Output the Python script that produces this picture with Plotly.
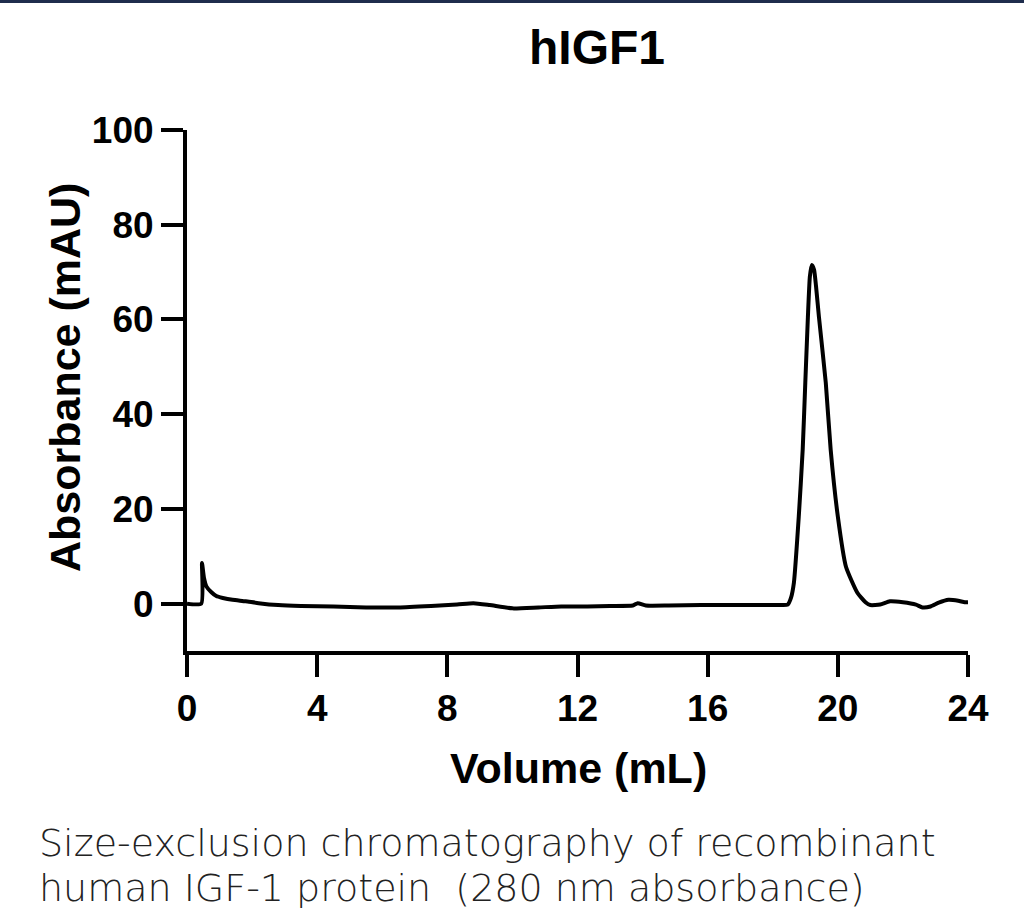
import plotly.graph_objects as go

# ---- data ----
volume_ml = [0.0, 0.44, 0.46, 0.52, 0.6, 0.75, 0.9, 1.1, 1.4, 1.8, 2.2, 2.8, 3.5, 4.5,
             5.5, 6.5, 7.5, 8.3, 8.8, 9.3, 10.0, 10.8, 11.5, 12.3, 13.0, 13.7, 13.85,
             14.1, 14.8, 15.8, 16.8, 17.8, 18.3, 18.46, 18.56, 18.65, 18.8, 18.92, 19.0,
             19.08, 19.14, 19.2, 19.27, 19.33, 19.42, 19.63, 19.78, 20.0, 20.25, 20.6,
             20.85, 21.0, 21.3, 21.6, 22.0, 22.4, 22.6, 22.85, 23.1, 23.4, 23.7, 23.9, 24.0]
absorbance_mau = [0.0, 0.0, 8.6, 5.5, 3.6, 2.4, 1.6, 1.2, 0.8, 0.5, 0.1, -0.3, -0.5, -0.6,
                  -0.8, -0.8, -0.5, -0.2, 0.1, -0.3, -1.0, -0.8, -0.6, -0.6, -0.5, -0.4, 0.1,
                  -0.4, -0.4, -0.3, -0.3, -0.3, -0.3, -0.2, 1.2, 4.4, 18.4, 32.5, 46.6,
                  60.5, 69.0, 71.5, 70.5, 67.0, 60.5, 46.6, 32.5, 18.4, 7.8, 2.3,
                  0.3, -0.3, -0.2, 0.5, 0.3, -0.2, -0.8, -0.6, 0.2, 0.8, 0.6, 0.3, 0.3]
assert len(volume_ml) == len(absorbance_mau)

x_ticks = [0, 4, 8, 12, 16, 20, 24]
y_ticks = [0, 20, 40, 60, 80, 100]

title_text = "hIGF1"
x_title = "Volume (mL)"
y_title = "Absorbance (mAU)"
caption_lines = ["Size-exclusion chromatography of recombinant",
                 "human IGF-1 protein  (280 nm absorbance)"]

# ---- layout geometry ----
W, H = 1024, 924
ML, MR, MT, MB = 187, 56, 130, 273
PW, PH = W - ML - MR, H - MT - MB


def px(xp):
    return (xp - ML) / PW


def py(yp):
    return (H - MB - yp) / PH


fig = go.Figure()
fig.add_trace(go.Scatter(x=volume_ml, y=absorbance_mau, mode="lines",
                         line=dict(color="black", width=4, shape="spline", smoothing=0.5),
                         showlegend=False))

axis_font = dict(family="Liberation Sans, Arial, sans-serif", size=37, color="black", weight="bold")
fig.update_xaxes(range=[0, 24], tickvals=x_ticks, ticks="outside", ticklen=22, tickwidth=4,
                 tickcolor="black", showline=True, linewidth=4, linecolor="black",
                 showgrid=False, zeroline=False, tickfont=axis_font)
fig.update_yaxes(range=[-10, 100], tickvals=y_ticks, ticks="outside", ticklen=22, tickwidth=4,
                 tickcolor="black", showline=True, linewidth=4, linecolor="black",
                 showgrid=False, zeroline=False, tickfont=axis_font)

ann = []
ann.append(dict(text=title_text, x=px(597), y=py(47), xref="paper", yref="paper",
                showarrow=False, xanchor="center", yanchor="middle",
                font=dict(family="Liberation Sans, Arial", size=48, color="black", weight="bold")))
ann.append(dict(text=x_title, x=px(578), y=py(768), xref="paper", yref="paper",
                showarrow=False, xanchor="center", yanchor="middle",
                font=dict(family="Liberation Sans, Arial", size=43, color="black", weight="bold")))
ann.append(dict(text=y_title, x=px(65), y=py(378), xref="paper", yref="paper",
                showarrow=False, xanchor="center", yanchor="middle", textangle=-90,
                font=dict(family="Liberation Sans, Arial", size=43, color="black", weight="bold")))
for i, (line, yc) in enumerate(zip(caption_lines, [843, 888])):
    ann.append(dict(text=line, x=px(37), y=py(yc), xref="paper", yref="paper",
                    showarrow=False, xanchor="left", yanchor="middle",
                    font=dict(family="DejaVu Sans, sans-serif", size=38, color="#222222", weight=200)))

fig.update_layout(
    width=W, height=H, autosize=False,
    margin=dict(l=ML, r=MR, t=MT, b=MB, pad=0),
    plot_bgcolor="white", paper_bgcolor="white",
    annotations=ann,
    shapes=[dict(type="rect", xref="paper", yref="paper", x0=px(0), x1=px(W),
                 y0=py(3), y1=py(0), fillcolor="#1f2d4d", line=dict(width=0), layer="above")],
)

fig.write_html("out.html")
